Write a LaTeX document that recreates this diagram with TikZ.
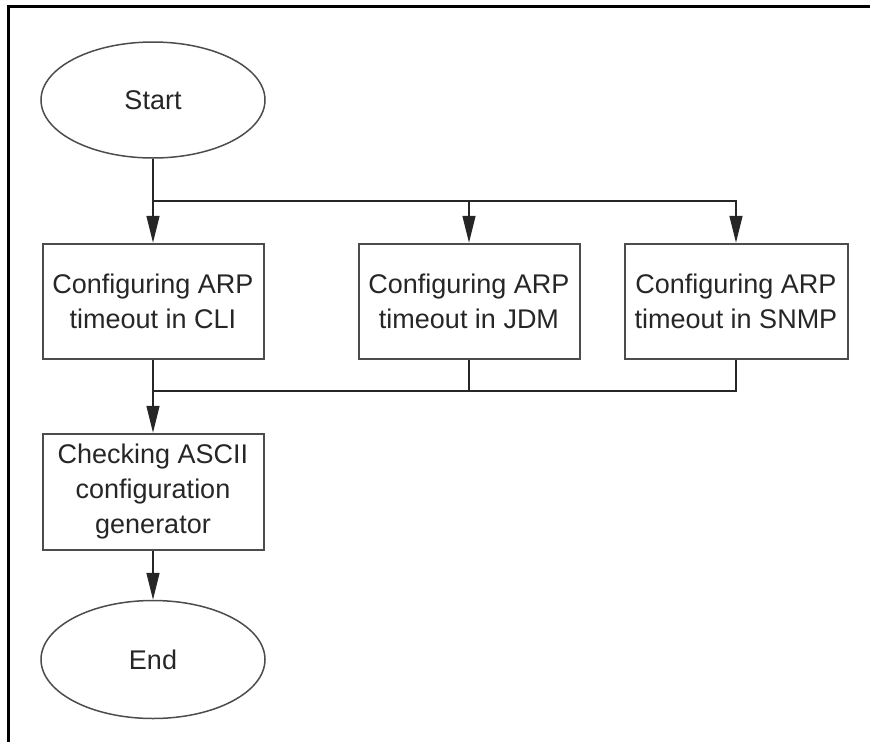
\documentclass[tikz,border=0pt]{standalone}
\usepackage{fontspec}
\setmainfont{Liberation Sans}
\usetikzlibrary{positioning,arrows.meta,calc,shapes.geometric}

\begin{document}
\begin{tikzpicture}[
    x=1pt, y=1pt,
    font=\fontsize{27}{35}\selectfont,
    term/.style={draw, black!70, ellipse, line width=1.5pt, minimum width=224pt,
                 minimum height=116pt, inner sep=0pt, text=black!85},
    task/.style={draw, black!70, line width=2pt, minimum width=221pt,
                 minimum height=115pt, inner sep=2pt, align=center, text=black!85},
    flow/.style={-{Triangle[length=27pt, width=13pt]}, black!85, line width=1.5pt},
    link/.style={black!85, line width=1.5pt},
  ]
  \useasboundingbox (0,0) rectangle (870,-742);
  % page frame (left and top only)
  \draw[line width=3pt] (8,-742) -- (8,-6.5) -- (870,-6.5);

  % --- start ---
  \node[term] (start) at (153,-100) {Start};

  % --- the three ways to set the timeout ---
  \node[task, below=84pt of start] (cli) {Configuring ARP\\timeout in CLI};
  \node[task, right=93pt of cli] (jdm) {Configuring ARP\\timeout in JDM};
  \node[task, right=43pt of jdm, minimum width=223pt] (snmp)
    {Configuring ARP\\timeout in SNMP};

  % fork below start
  \coordinate (fork) at ($(start.south)+(0,-42)$);
  \draw[flow] (start.south) -- (cli.north);
  \draw[flow] (fork) -| (jdm.north);
  \draw[flow] (fork) -| (snmp.north);

  % --- check and end ---
  \node[task, below=73pt of cli, minimum height=116pt] (ascii)
    {Checking ASCII\\configuration\\generator};
  \node[term, below=49pt of ascii, minimum height=118pt] (end) {End};

  % join above the check
  \coordinate (join) at ($(cli.south)+(0,-31)$);
  \draw[link] (jdm.south) |- (join);
  \draw[link] (snmp.south) |- (join);
  \draw[flow] (cli.south) -- (ascii.north);
  \draw[flow] (ascii.south) -- (end.north);
\end{tikzpicture}
\end{document}
